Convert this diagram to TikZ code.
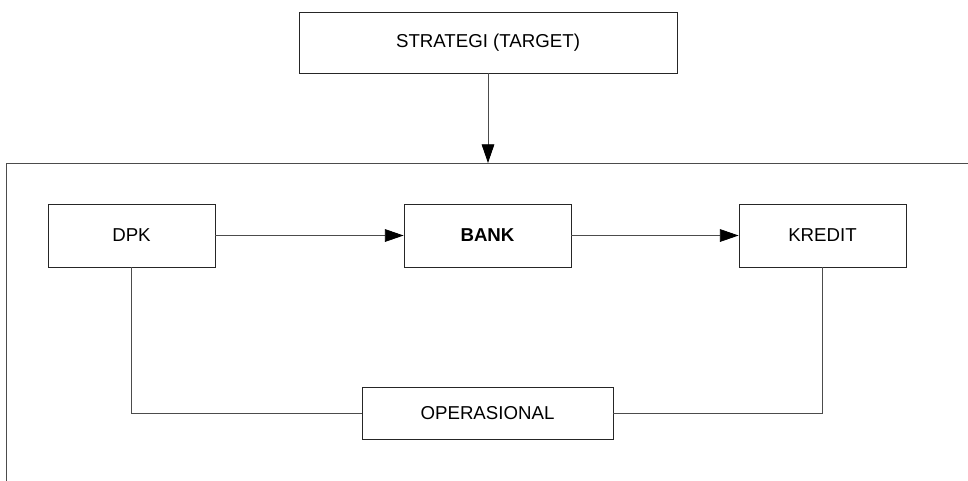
\documentclass[tikz,border=0pt]{standalone}
\usepackage{fontspec}
\setmainfont{Liberation Sans}
\usepackage{tikz}
\usetikzlibrary{arrows.meta, positioning}

\begin{document}
\begin{tikzpicture}[x=0.75pt, y=-0.75pt, line width=0.6pt,
    box/.style={draw=black!85, fill=white, inner sep=0pt, minimum width=125.25pt,
        minimum height=47.25pt, font=\fontsize{14}{16}\selectfont},
    line/.style={draw=black!70},
    arr/.style={line, -{Triangle[length=14pt, width=9.5pt, color=black]}}]
    \useasboundingbox (0,0) rectangle (968,480);
    \clip (0,0) rectangle (968,480);

    % Outer frame (runs off the page at right and bottom)
    \draw[line] (6,163) rectangle (1000,520);

    % Boxes
    \node[box, minimum width=283.5pt, minimum height=45.75pt] (strategi) at (488,42.5) {STRATEGI (TARGET)};
    \node[box] (dpk) at (131.5,235.5) {DPK};
    \node[box] (bank) at (487.5,235.5) {\textbf{BANK}};
    \node[box] (kredit) at (822.5,235.5) {KREDIT};
    \node[box, minimum width=188.25pt, minimum height=39pt] (operasional) at (487.5,413) {OPERASIONAL};

    % Connections
    \draw[arr] (strategi) -- (488,163);
    \draw[arr] (dpk) -- (bank);
    \draw[arr] (bank) -- (kredit);
    \draw[line] (dpk.south) |- (operasional.west);
    \draw[line] (kredit.south) |- (operasional.east);
\end{tikzpicture}
\end{document}
